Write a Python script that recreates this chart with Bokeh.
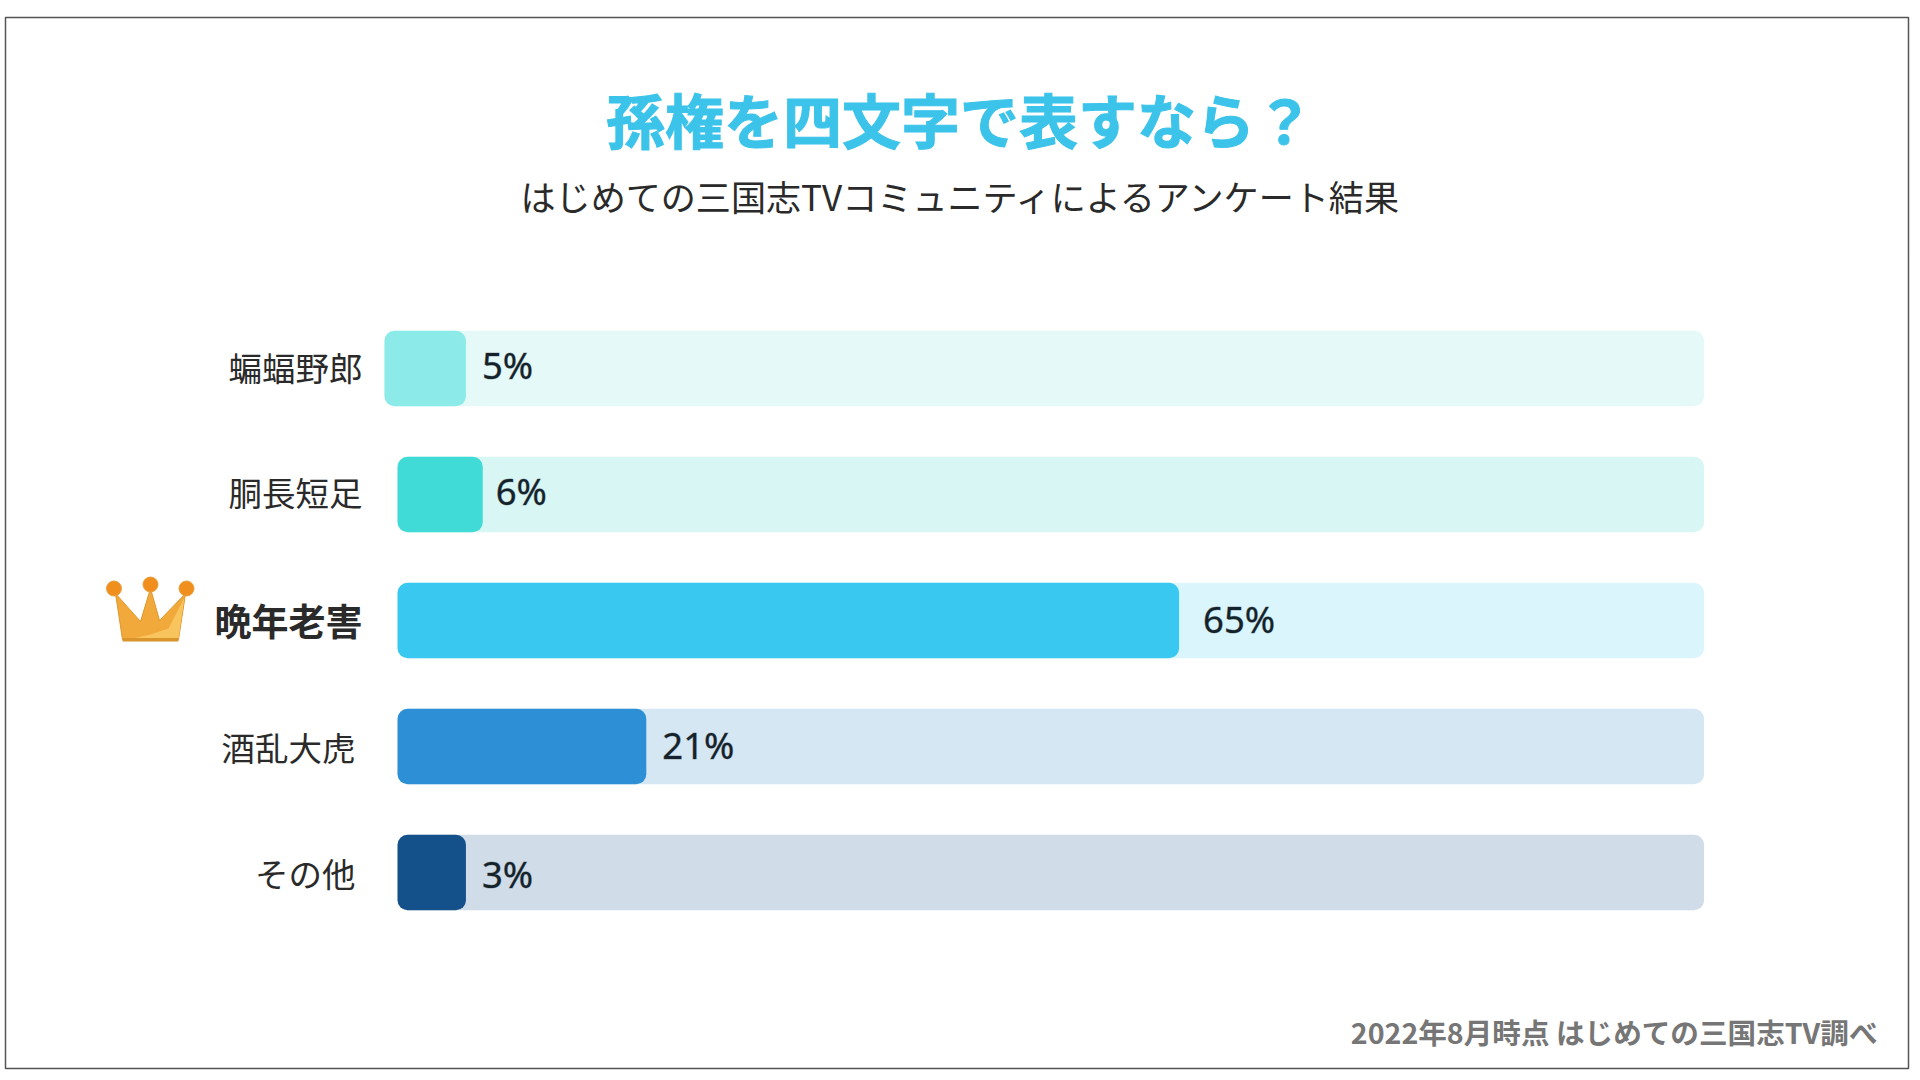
from bokeh.plotting import figure
from bokeh.models import Range1d, ColumnDataSource
from bokeh.core.properties import value
from bokeh.embed import file_html
from bokeh.resources import INLINE

# ---- data ----
categories = ["蝙蝠野郎", "胴長短足", "晩年老害", "酒乱大虎", "その他"]
value_labels = ["5%", "6%", "65%", "21%", "3%"]
# drawn bar extents, in percent-scale units (the original's bars are not strictly proportional)
bar_start = [-1.17, -0.08, -0.08, -0.08, -0.08]
bar_end = [5.62, 7.02, 65.05, 20.65, 5.62]
track_end = [108.8, 108.8, 108.8, 108.8, 108.8]
bar_colors = ["#8CEBE8", "#40DBD6", "#38C8F0", "#2D8FD5", "#14508A"]
track_colors = ["#E5F9F8", "#D8F6F4", "#DAF5FC", "#D6E7F4", "#D0DCE8"]
title_text = "孫権を四文字で表すなら？"
subtitle_text = "はじめての三国志TVコミュニティによるアンケート結果"
footer_text = "2022年8月時点 はじめての三国志TV調べ"

W, H = 1920, 1080
PX_PER_PCT = 12.0
X0, Y0, ROW = 398.0, 368.0, 126.0


def dx(px):
    return (px - X0) / PX_PER_PCT


def dy(px):
    return (px - Y0) / ROW


p = figure(width=W, height=H, output_backend="svg", toolbar_location=None,
           x_range=Range1d(dx(0), dx(W)), y_range=Range1d(dy(H), dy(0)),
           min_border=0, background_fill_color="white", border_fill_color="white",
           outline_line_color=None)
p.axis.visible = False
p.grid.visible = False

rows = list(range(len(categories)))
src = ColumnDataSource(dict(
    y=rows, start=bar_start, end=bar_end, track=track_end,
    bar=bar_colors, trk=track_colors, cat=categories, lab=value_labels,
    lab_off=[16, 13, 24, 16, 16],
    lab_y=[-4, -4, -2, -2, 1],
    cat_off=[-36, -36, -36, -43, -43],
    cat_size=["33.5px", "33.5px", "37px", "33.5px", "33.5px"],
    cat_style=["normal", "normal", "bold", "normal", "normal"],
    cat_y=[-2, -3.5, -1, -0.5, 0],
))

# frame
p.quad(left=[dx(5)], right=[dx(1908)], top=[dy(17)], bottom=[dy(1068)],
       fill_color="white", line_color="#555555", line_width=1.5)

# bars
p.hbar(y="y", left="start", right="track", height=75.5 / ROW, source=src,
       fill_color="trk", line_color=None, border_radius=10)
p.hbar(y="y", left="start", right="end", height=75.5 / ROW, source=src,
       fill_color="bar", line_color=None, border_radius=10)

# category labels
p.text(x=0, y="y", text="cat", source=src, x_offset="cat_off", y_offset="cat_y",
       text_align="right", text_baseline="middle", text_color="#2A2A2A",
       text_font=value("Noto Sans CJK JP"), text_font_size="cat_size",
       text_font_style="cat_style")
# value labels
p.text(x="end", y="y", text="lab", source=src, x_offset="lab_off", y_offset="lab_y",
       text_align="left", text_baseline="middle", text_color="#14232B",
       text_outline_color="rgba(20,35,43,0.35)",
       text_font=value("Noto Sans"), text_font_size="36.5px")

# crown decoration
crown_x = [115, 140, 150, 159, 185, 178, 122]
crown_y = [593, 621, 588, 620, 593, 639, 639]
p.patch([dx(v) for v in crown_x], [dy(v) for v in crown_y],
        fill_color="#F2A93B", line_color="#E0962A", line_width=1)
shine_x = [132, 150, 168, 184, 178]
shine_y = [638, 634, 628, 597, 638]
p.patch([dx(v) for v in shine_x], [dy(v) for v in shine_y],
        fill_color="#F8C45E", line_color=None)
p.quad(left=[dx(122)], right=[dx(178)], top=[dy(637.5)], bottom=[dy(641)],
       fill_color="#D9942C", line_color=None)
p.scatter([dx(113.5), dx(150), dx(186)], [dy(588), dy(584), dy(588)], size=15,
          fill_color="#F08F1E", line_color="#E8A040", line_width=1)

# titles
p.text(x=[dx(959.5)], y=[dy(118)], text=[title_text], text_align="center",
       text_baseline="middle", text_color="#3CC3EA", text_outline_color="#3CC3EA",
       text_font=value("Noto Sans CJK JP"), text_font_size="59px", text_font_style="bold")
p.text(x=[dx(961.5)], y=[dy(195)], text=[subtitle_text], text_align="center",
       text_baseline="middle", text_color="#2A2A2A",
       text_font=value("Noto Sans CJK JP"), text_font_size="35.1px")
p.text(x=[dx(1877)], y=[dy(1031)], text=[footer_text], text_align="right",
       text_baseline="middle", text_color="#767676",
       text_font=value("Noto Sans CJK JP"), text_font_size="28.6px", text_font_style="bold")

open("out.html", "w").write(file_html(p, INLINE))
